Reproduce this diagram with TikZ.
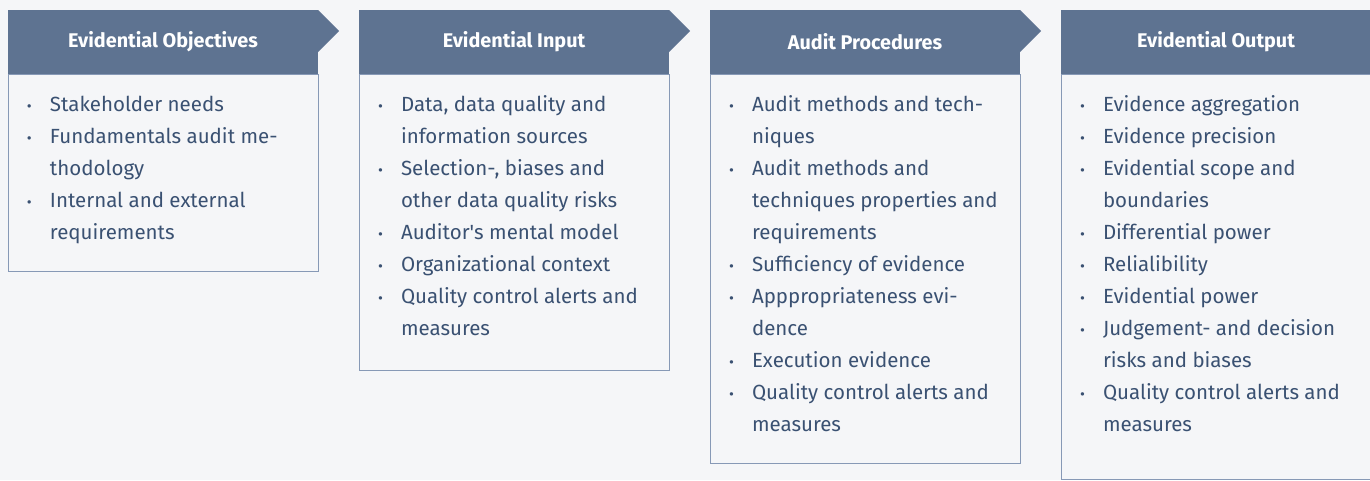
\documentclass[tikz,border=0pt]{standalone}
\usepackage{fontspec}
\setmainfont{Fira Sans}
\usetikzlibrary{positioning}
\definecolor{pagebg}{HTML}{F5F6F8}
\definecolor{hdrblue}{HTML}{5E7391}
\definecolor{boxline}{HTML}{8799B6}
\definecolor{itemtext}{HTML}{3A5172}
\newcommand{\bitem}[1]{\par\hangindent=42pt\hangafter=1\noindent
    \makebox[42pt][l]{\hspace{19pt}\raisebox{-0.5pt}{\fontsize{15}{15}\selectfont\textbullet}}\strut#1}
\newcommand{\itemlist}[2]{\parbox[t][#1][t]{310pt}{\fontsize{20.5}{32}\selectfont
    \raggedright\hyphenpenalty=10000\vspace*{14.8pt}#2}}
\tikzset{
    every picture/.style = {
        x = 1pt,
        y = -1pt
    },
    colhead/.style = {
        fill = hdrblue,
        text = white,
        font = \fontsize{19.8}{22}\selectfont\bfseries,
        minimum width = 310pt,
        minimum height = 64pt,
        inner sep = 0pt,
        outer sep = 0pt
    },
    colbody/.style = {
        draw = boxline,
        line width = 1pt,
        text = itemtext,
        inner sep = 0pt,
        outer sep = 0pt
    }
}

\begin{document}
\begin{tikzpicture}
    \useasboundingbox[fill=pagebg] (0,0) rectangle (1370,480);
    % headers
    \node[colhead, anchor=north west] (objhead) at (8,10) {Evidential Objectives};
    \node[colhead, right=41pt of objhead] (inhead) {Evidential Input};
    \node[colhead, right=41pt of inhead] (prochead) {Audit Procedures};
    \node[colhead, right=41pt of prochead] (outhead) {Evidential Output};
    \foreach \h in {objhead,inhead,prochead} {
        \fill[hdrblue] (\h.north east) -- ++(21,21) -- ++(-21,21) -- cycle;
    }
    % lists
    \node[colbody, below=0pt of objhead] (objbody) {\itemlist{197pt}{%
        \bitem{Stakeholder needs}
        \bitem{Fundamentals audit me-\newline thodology}
        \bitem{Internal and external\newline requirements}}};
    \node[colbody, below=0pt of inhead] (inbody) {\itemlist{296pt}{%
        \bitem{Data, data quality and\newline information sources}
        \bitem{Selection-, biases and\newline other data quality risks}
        \bitem{Auditor\textquotesingle s mental model}
        \bitem{Organizational context}
        \bitem{Quality control alerts and\newline measures}}};
    \node[colbody, below=0pt of prochead] (procbody) {\itemlist{389pt}{%
        \bitem{Audit methods and tech-\newline niques}
        \bitem{Audit methods and\newline techniques properties and\newline requirements}
        \bitem{Sufficiency of evidence}
        \bitem{Apppropriateness evi-\newline dence}
        \bitem{Execution evidence}
        \bitem{Quality control alerts and\newline measures}}};
    \node[colbody, below=0pt of outhead] (outbody) {\itemlist{405pt}{%
        \bitem{Evidence aggregation}
        \bitem{Evidence precision}
        \bitem{Evidential scope and\newline boundaries}
        \bitem{Differential power}
        \bitem{Relialibility}
        \bitem{Evidential power}
        \bitem{Judgement- and decision\newline risks and biases}
        \bitem{Quality control alerts and\newline measures}}};
\end{tikzpicture}
\end{document}
